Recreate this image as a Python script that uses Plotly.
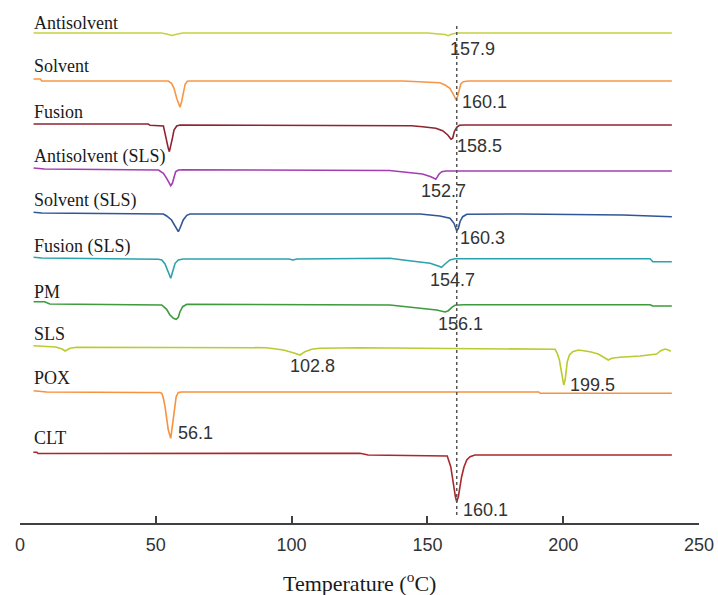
import plotly.graph_objects as go

# ---------------- data ----------------
# Series names (top to bottom)
names = ["Antisolvent", "Solvent", "Fusion", "Antisolvent (SLS)", "Solvent (SLS)",
         "Fusion (SLS)", "PM", "SLS", "POX", "CLT"]

# Vertical stacking offsets (arbitrary heat-flow units)
offsets = [490, 442, 399, 355, 310, 265, 220, 176, 131, 70]

# Temperature (°C) and relative heat flow for each thermogram
t_antisolvent = [5, 52, 54, 56, 58, 60, 150, 153.4, 155, 156.5, 157.6, 159, 161, 240]
h_antisolvent = [0, 0, -1, -2.5, -1, 0, 0, -0.7, -1, -1.5, -2.7, -1, 0, 0]

t_solvent = [5, 7.5, 8, 54.6, 55.8, 56.7, 57.7, 58.5, 58.9, 59.5, 60.1, 60.8, 61.6, 62.5,
             141, 143.6, 146.1, 154.6, 156.5, 158.3, 159.5, 160.4, 161.1, 161.6, 162.3, 163.2, 165.1, 240]
h_solvent = [2, 2, 0, 0, -2.3, -7.3, -17.3, -25, -26.3, -20.7, -10.7, -3.3, -0.3, 0,
             0, -0.3, -0.7, -1.7, -4, -7.3, -13, -18, -15.7, -9, -3, -0.7, 0, 0]

t_fusion = [5, 47.2, 47.9, 51.5, 52.8, 53.4, 54.0, 54.6, 55.0, 55.5, 56.1, 56.7, 57.7, 58.9,
            100, 100.8, 144.1, 148.2, 153.1, 155.6, 157.5, 158.7, 159.3, 159.9, 160.8, 161.8, 163.6, 240]
h_fusion = [0, 0, -1.3, -2, -2, -9.3, -17.7, -24.3, -27.7, -22.7, -14.3, -6, -2, -1,
            -1, -1.7, -1.7, -2.7, -4.3, -6.7, -11, -15.3, -14.3, -7.7, -3.3, -1.3, -1, -1]

t_antisolvent_sls = [5, 9, 51.0, 52.8, 54.0, 55.0, 55.5, 56.1, 56.7, 57.3, 58.3, 60.1,
                     136, 141.1, 148.2, 151.3, 153.1, 154.3, 155.3, 156.8, 240]
h_antisolvent_sls = [0, -1, -2, -5.3, -10.3, -15.3, -17.7, -15.3, -8.7, -3.7, -2, -1.7,
                     -2.5, -3.7, -6, -8.7, -11.3, -6, -3.7, -3, -3]

t_solvent_sls = [5, 8, 52.8, 54.0, 55.8, 57.1, 58.3, 58.9, 60.1, 61.4, 62.6,
                 147.3, 154.6, 158.3, 159.8, 160.8, 161.4, 162.0, 163.0, 164.5, 184, 222, 233, 240]
h_solvent_sls = [0.7, 0, -1, -3, -7, -13, -18.7, -15.3, -7, -2.3, -1,
                 -1, -3, -5.3, -10.3, -17.7, -15.3, -8.7, -3.7, -1.3, -1, -2, -3, -3.7]

t_fusion_sls = [5, 8, 51.0, 52.2, 53.4, 54.6, 55.5, 56.2, 57.1, 58.3, 60.1, 99, 100.5, 102,
                136.2, 141.1, 147.3, 151.0, 154.0, 155.2, 156.5, 158.3, 160.1, 232, 233, 240]
h_fusion_sls = [0.7, 0, -1.3, -2, -6, -13.7, -20.3, -13.7, -5.3, -2, -1, -1, -2, -1,
                -0.3, -2, -3.7, -5.3, -8, -9.3, -6, -2, -0.7, -0.7, -3.7, -3.7]

t_pm = [5, 9, 11, 52.2, 54.0, 55.2, 56.5, 57.5, 58.3, 58.9, 59.9, 61.4,
        136.2, 139.9, 148.5, 153.4, 156.5, 157.7, 159.0, 160.1, 163.2, 232, 233, 240]
h_pm = [1.3, 1.3, -1, -2, -6.3, -12, -15.3, -16.3, -14.3, -8.7, -3.7, -1.3,
        -2, -3, -5.3, -7, -9, -7.7, -4.3, -2.3, -1.7, -1.7, -3, -3]

t_sls = [4.9, 13.2, 15.5, 16.6, 18.4, 20.9, 90.8, 97.0, 100.6, 103.1, 104.9, 107.4, 110.4, 125.2,
         197.0, 197.8, 198.6, 199.2, 199.7, 200.2, 200.7, 201.0, 201.5, 202.3, 203.5, 205.6, 209.9,
         212.9, 215.4, 216.6, 217.9, 220.9, 228.3, 234.4, 235.9, 237.5, 238.7, 239.6]
h_sls = [1.3, 0, -2, -4, -1.3, -0.3, -0.7, -3, -5.7, -8, -4.7, -2.3, -1.3, -0.7,
         -2.3, -6.3, -13, -23, -33, -38, -33, -23, -14.7, -8, -4.7, -3, -4.7,
         -7, -11.3, -13, -11.3, -10.3, -9, -7, -3.7, -2, -3, -4.3]

t_pox = [5, 9.8, 45.4, 51.5, 52.2, 52.8, 53.4, 54.0, 54.6, 55.5, 56.2, 56.9, 57.5, 58.3, 59.5,
         191, 191.5, 240]
h_pox = [1.3, 0, -0.5, -0.5, -1.3, -6.3, -14.7, -28, -38, -46.3, -31.3, -14.7, -4.7, -0.5, 0,
         0, -1.3, -1.3]

t_clt = [4.9, 6.2, 6.7, 125.2, 128.2, 157.3, 158.6, 159.3, 159.9, 160.3, 160.8, 161.4, 162.0,
         162.6, 163.5, 164.5, 165.7, 167.5, 240]
h_clt = [0.7, 0.7, -0.5, -0.3, -2, -3, -13.7, -27, -35.3, -43.7, -48.7, -43.7, -33.7,
         -23.7, -13.7, -7, -3.7, -2, -2]

temps = [t_antisolvent, t_solvent, t_fusion, t_antisolvent_sls, t_solvent_sls,
         t_fusion_sls, t_pm, t_sls, t_pox, t_clt]
flows = [h_antisolvent, h_solvent, h_fusion, h_antisolvent_sls, h_solvent_sls,
         h_fusion_sls, h_pm, h_sls, h_pox, h_clt]

# Peak temperature labels (text) and the series they belong to
peak_text = ["157.9", "160.1", "158.5", "152.7", "160.3", "154.7", "156.1", "102.8", "199.5", "56.1", "160.1"]
peak_series = [0, 1, 2, 3, 4, 5, 6, 7, 7, 8, 9]

# Reference (dotted) temperature
ref_temp = 160.8

x_ticks = [0, 50, 100, 150, 200, 250]

# ---------------- styling ----------------
colors = ["#C3D23E", "#F79646", "#8E2430", "#A43DB4", "#2F5697",
          "#2CA2AA", "#3C9B3C", "#BACB30", "#F7923E", "#A8282C"]

# label anchor positions (layout only)
name_x = 4.6
name_dy = [10, 15, 12.5, 11.5, 13, 11.5, 11.5, 13, 14, 15]
peak_x = [157.6, 162.0, 160.2, 146.9, 161.3, 150.2, 153.2, 98.7, 201.8, 57.4, 162.4]
peak_dy = [-16, -21, -22, -23, -25, -22, -21, -19, -38, -41, -57]

fig = go.Figure()
for i, nm in enumerate(names):
    fig.add_trace(go.Scatter(
        x=temps[i], y=[offsets[i] + v for v in flows[i]], mode="lines",
        line=dict(color=colors[i], width=1.6), name=nm, showlegend=False,
        hoverinfo="skip"))

annotations = []
for i, nm in enumerate(names):
    annotations.append(dict(
        x=name_x, y=offsets[i] + name_dy[i], xref="x", yref="y", text=nm,
        showarrow=False, xanchor="left", yanchor="middle",
        font=dict(family="Liberation Serif, Times New Roman, serif", size=18, color="#1a1a1a")))

for k, txt in enumerate(peak_text):
    s = peak_series[k]
    annotations.append(dict(
        x=peak_x[k], y=offsets[s] + peak_dy[k], xref="x", yref="y", text=txt,
        showarrow=False, xanchor="left", yanchor="middle",
        font=dict(family="Liberation Sans, Arial, sans-serif", size=18, color="#333333")))

annotations.append(dict(
    x=0.5, y=-0.113, xref="paper", yref="paper", text="Temperature (<sup>o</sup>C)",
    showarrow=False, xanchor="center", yanchor="middle",
    font=dict(family="Liberation Serif, Times New Roman, serif", size=22, color="#1a1a1a")))

fig.add_shape(type="line", x0=ref_temp, x1=ref_temp, y0=8, y1=500, xref="x", yref="y",
              line=dict(color="#555555", width=1.5, dash="dot"))

fig.update_layout(
    width=718, height=595,
    margin=dict(l=20, r=19, t=0, b=72),
    paper_bgcolor="white", plot_bgcolor="white",
    annotations=annotations,
    xaxis=dict(range=[0, 250], tickvals=x_ticks, ticks="inside", ticklen=7, tickwidth=1.5,
               tickcolor="#404040", showline=True, linecolor="#404040", linewidth=1.5,
               showgrid=False, zeroline=False, ticklabelstandoff=5,
               tickfont=dict(family="Liberation Sans, Arial, sans-serif", size=18, color="#333333")),
    yaxis=dict(range=[0, 523], visible=False, showgrid=False, zeroline=False),
)

fig.write_html("out.html", config={"displayModeBar": False},
               post_script="document.body.style.margin='0';")
